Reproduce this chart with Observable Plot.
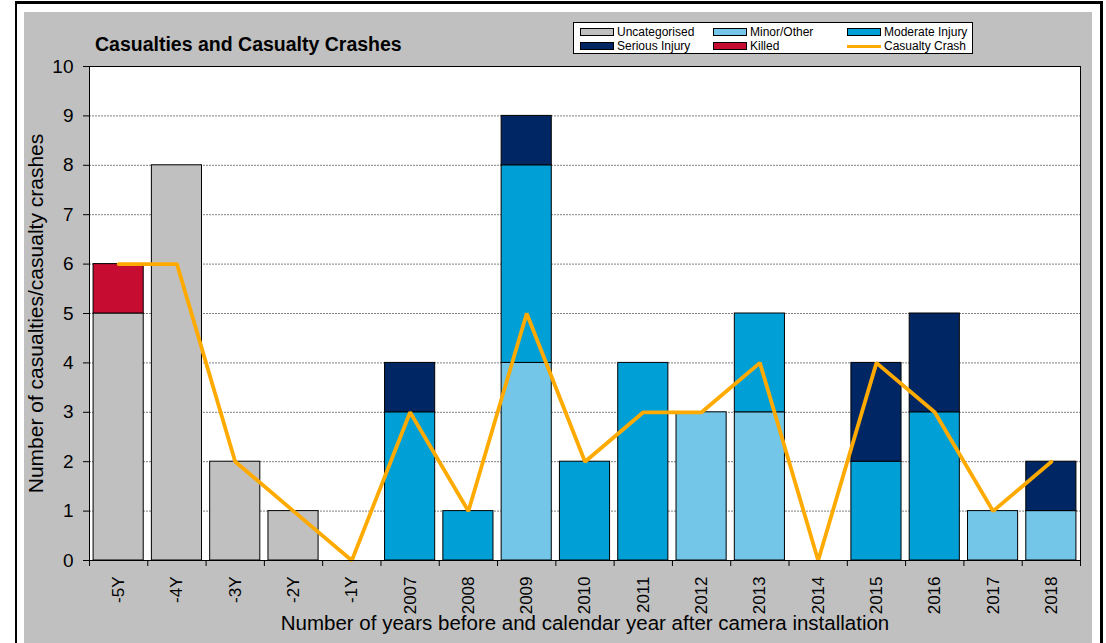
<!DOCTYPE html>
<html>
<head>
<meta charset="utf-8">
<script src="https://cdn.jsdelivr.net/npm/d3@7"></script>
<script src="https://cdn.jsdelivr.net/npm/@observablehq/plot@0.6"></script>
<style>
  html, body { margin: 0; padding: 0; background: white; }
  #wrap { position: relative; width: 1106px; height: 643px; overflow: hidden; font-family: "Liberation Sans", Arial, sans-serif; }
  #outer { position: absolute; left: 15px; top: 1px; width: 1083px; height: 700px; border: 3px solid black; border-left-width: 2px; box-sizing: content-box; background: white; }
  #gray { position: absolute; left: 24px; top: 12px; width: 1068px; height: 700px; background: #c0c0c0; }
  #chart { position: absolute; left: 0; top: 0; }
  #title { position: absolute; left: 95px; top: 33px; font-weight: bold; font-size: 19.5px; color: black; white-space: nowrap; }
  #legend { position: absolute; left: 573px; top: 22px; width: 398px; height: 30px; background: white; border: 1px solid black; }
  .li { position: absolute; font-size: 12px; line-height: 12px; white-space: nowrap; color: black; }
  .sw { position: absolute; width: 32px; height: 6px; border: 1px solid black; }
  .ln { position: absolute; width: 34px; height: 3px; }
</style>
</head>
<body>
<div id="wrap">
  <div id="outer"></div>
  <div id="gray"></div>
  <div id="chart"></div>
  <div id="title">Casualties and Casualty Crashes</div>
  <div id="legend"></div>
</div>
<script>
const categories = ["-5Y","-4Y","-3Y","-2Y","-1Y","2007","2008","2009","2010","2011","2012","2013","2014","2015","2016","2017","2018"];
const uncategorised = [5,8,2,1,0,0,0,0,0,0,0,0,0,0,0,0,0];
const minorOther    = [0,0,0,0,0,0,0,4,0,0,3,3,0,0,0,1,1];
const moderate      = [0,0,0,0,0,3,1,4,2,4,0,2,0,2,3,0,0];
const serious       = [0,0,0,0,0,1,0,1,0,0,0,0,0,2,2,0,1];
const killed        = [1,0,0,0,0,0,0,0,0,0,0,0,0,0,0,0,0];
const casualtyCrash = [6,6,2,1,0,3,1,5,2,3,3,4,0,4,3,1,2];

const seriesNames = ["Uncategorised","Minor/Other","Moderate Injury","Serious Injury","Killed"];
const seriesValues = [uncategorised, minorOther, moderate, serious, killed];
const seriesColors = ["#c0c0c0","#73c6e7","#00a0d6","#002664","#c60c30"];
const lineName = "Casualty Crash";
const lineColor = "#ffaa00";
const yTicks = [0,1,2,3,4,5,6,7,8,9,10];

const bars = [];
seriesNames.forEach((name, s) => {
  categories.forEach((c, i) => {
    const v = seriesValues[s][i];
    if (v > 0) bars.push({cat: c, type: name, value: v});
  });
});
const crashes = categories.map((c, i) => ({cat: c, value: casualtyCrash[i]}));

const W = 1106, H = 643, ML = 89, MR = 26, MT = 66, MB = 83;
const padIn = 0.14, padOut = 0.07;
const step = (W - ML - MR) / (categories.length - padIn + 2 * padOut);

const font = '"Liberation Sans", Arial, sans-serif';

const chart = Plot.plot({
  width: W, height: H,
  marginLeft: ML, marginRight: MR, marginTop: MT, marginBottom: MB,
  style: {background: "transparent", fontFamily: font, color: "black", overflow: "visible"},
  x: {domain: categories, paddingInner: padIn, paddingOuter: padOut, round: false, label: null},
  y: {domain: [0, 10], label: null},
  color: {domain: seriesNames, range: seriesColors},
  marks: [
    Plot.frame({fill: "white", stroke: null}),
    Plot.ruleY(yTicks.slice(1, -1), {stroke: "#808080", strokeWidth: 1, strokeDasharray: "2,1"}),
    Plot.barY(bars, {x: "cat", y: "value", fill: "type", stroke: "black", strokeWidth: 1, order: seriesNames}),
    Plot.line(crashes, {x: "cat", y: "value", stroke: lineColor, strokeWidth: 3.8, strokeLinejoin: "miter"}),
    Plot.frame({stroke: "black", strokeWidth: 1}),
    Plot.axisY({ticks: yTicks, tickSize: 6, tickPadding: 10, fontSize: 19, stroke: "black",
      label: "Number of casualties/casualty crashes", labelAnchor: "center", labelArrow: "none", labelOffset: 61}),
    Plot.axisX({tickSize: 0, tickRotate: -90, tickPadding: 16, fontSize: 17,
      label: "Number of years before and calendar year after camera installation", labelAnchor: "center", labelArrow: "none", labelOffset: 69}),
    Plot.axisX({tickSize: 6, tickFormat: () => "", dx: -step / 2, stroke: "black", label: null}),
    Plot.axisX({ticks: [categories[categories.length - 1]], tickSize: 6, tickFormat: () => "", dx: step / 2, stroke: "black", label: null})
  ]
});
chart.querySelectorAll("g[aria-label='y-axis label'] text").forEach(t => t.setAttribute("font-size", "21"));
chart.querySelectorAll("g[aria-label='x-axis label'] text").forEach(t => t.setAttribute("font-size", "20.5"));
document.getElementById("chart").appendChild(chart);

// legend
const legend = document.getElementById("legend");
const items = [
  {name: seriesNames[0], color: seriesColors[0], col: 0, row: 0},
  {name: seriesNames[1], color: seriesColors[1], col: 1, row: 0},
  {name: seriesNames[2], color: seriesColors[2], col: 2, row: 0},
  {name: seriesNames[3], color: seriesColors[3], col: 0, row: 1},
  {name: seriesNames[4], color: seriesColors[4], col: 1, row: 1},
  {name: lineName, color: lineColor, col: 2, row: 1, line: true}
];
const colX = [6, 139, 273];
const rowY = [5, 19];
items.forEach(it => {
  const sw = document.createElement("div");
  if (it.line) {
    sw.className = "ln";
    sw.style.left = colX[it.col] + "px";
    sw.style.top = (rowY[it.row] + 3) + "px";
  } else {
    sw.className = "sw";
    sw.style.left = colX[it.col] + "px";
    sw.style.top = rowY[it.row] + "px";
  }
  sw.style.background = it.color;
  legend.appendChild(sw);
  const tx = document.createElement("div");
  tx.className = "li";
  tx.textContent = it.name;
  tx.style.left = (colX[it.col] + 37) + "px";
  tx.style.top = (rowY[it.row] - 2) + "px";
  legend.appendChild(tx);
});
</script>
</body>
</html>
